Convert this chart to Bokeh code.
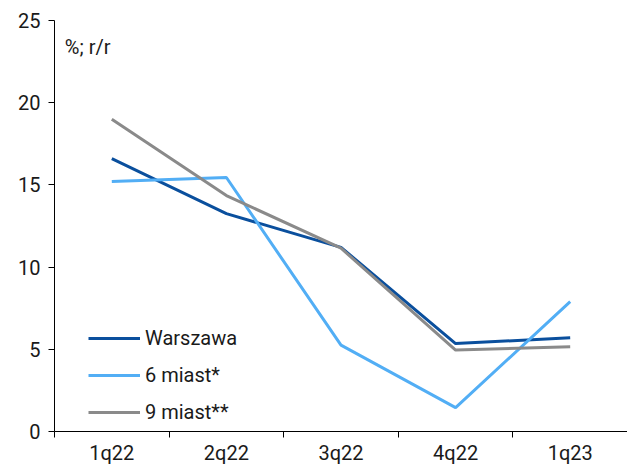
from bokeh.plotting import figure
from bokeh.models import Range1d, FixedTicker, Legend, LegendItem, Label
from bokeh.embed import file_html
from bokeh.resources import INLINE

categories = ["1q22", "2q22", "3q22", "4q22", "1q23"]
warszawa = [16.6, 13.25, 11.2, 5.35, 5.7]
miast6 = [15.2, 15.45, 5.25, 1.45, 7.9]
miast9 = [19.0, 14.35, 11.15, 4.95, 5.15]
y_ticks = [0, 5, 10, 15, 20, 25]

FONT = "Roboto"

x = [i + 0.5 for i in range(len(categories))]

p = figure(width=627, height=468, output_backend="svg", toolbar_location=None,
           x_range=Range1d(0, len(categories)), y_range=Range1d(0, 25),
           min_border_left=54, min_border_right=0, min_border_top=20, min_border_bottom=37)
p.outline_line_color = None
p.xgrid.visible = False
p.ygrid.visible = False
p.background_fill_color = "white"

r1 = p.line(x, warszawa, line_color="#0a4f9d", line_width=3)
r2 = p.line(x, miast6, line_color="#52aef5", line_width=3)
r3 = p.line(x, miast9, line_color="#8a8a8a", line_width=3)

xa = p.xaxis[0]
xa.ticker = FixedTicker(ticks=x, minor_ticks=list(range(len(categories) + 1)))
xa.major_label_overrides = {xi: c for xi, c in zip(x, categories)}
xa.major_tick_out = 0
xa.major_tick_in = 0
xa.minor_tick_out = 6
xa.minor_tick_in = 0
xa.minor_tick_line_color = "black"
xa.axis_line_color = "black"
xa.major_label_text_font = FONT
xa.major_label_text_font_size = "20px"
xa.major_label_text_color = "#1a1a1a"
xa.major_label_standoff = 3

ya = p.yaxis[0]
ya.ticker = FixedTicker(ticks=y_ticks, minor_ticks=[])
ya.major_tick_out = 6
ya.major_tick_in = 0
ya.axis_line_color = "black"
ya.major_label_text_font = FONT
ya.major_label_text_font_size = "20px"
ya.major_label_text_color = "#1a1a1a"
ya.major_label_standoff = 8

p.add_layout(Label(x=0.09, y=23.4, text="%; r/r", text_font=FONT, text_font_size="20px",
                   text_baseline="middle", text_color="#1a1a1a"))

legend = Legend(items=[LegendItem(label="Warszawa", renderers=[r1]),
                       LegendItem(label="6 miast*", renderers=[r2]),
                       LegendItem(label="9 miast**", renderers=[r3])],
                location=(34, 7), padding=0, margin=0, spacing=13,
                glyph_width=52, glyph_height=20, label_height=20, label_standoff=5,
                label_text_font=FONT, label_text_font_size="20px", label_text_color="#1a1a1a",
                border_line_color=None, background_fill_alpha=0)
p.add_layout(legend)

open("out.html", "w").write(file_html(p, INLINE))
